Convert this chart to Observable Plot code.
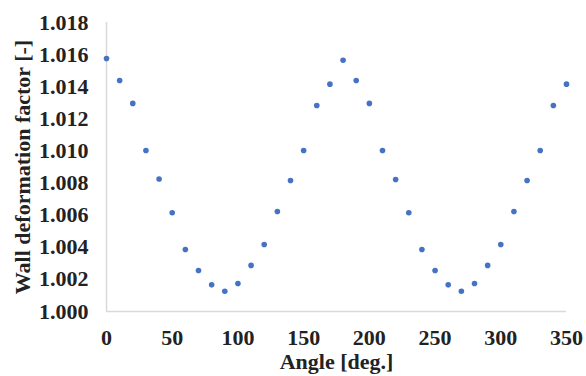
<!DOCTYPE html>
<html><head><meta charset="utf-8">
<script src="https://cdn.jsdelivr.net/npm/d3@7"></script>
<script src="https://cdn.jsdelivr.net/npm/@observablehq/plot@0.6"></script>
<style>body{margin:0;background:#fff}</style>
</head><body><div id="chart"></div>
<script>
const angles = [0,10,20,30,40,50,60,70,80,90,100,110,120,130,140,150,160,170,180,190,200,210,220,230,240,250,260,270,280,290,300,310,320,330,340,350];
const factors = [1.01576,1.01439,1.01296,1.01003,1.00825,1.00615,1.00386,1.00255,1.00166,1.00126,1.00174,1.00287,1.00417,1.00623,1.00816,1.01003,1.01283,1.01416,1.01565,1.01439,1.01296,1.01003,1.00822,1.00615,1.00386,1.00255,1.00166,1.00126,1.00174,1.00287,1.00417,1.00623,1.00816,1.01003,1.01283,1.01416];
const xTicks = [0,50,100,150,200,250,300,350];
const yTicks = [1.000,1.002,1.004,1.006,1.008,1.010,1.012,1.014,1.016,1.018];
const data = angles.map((a,i)=>({angle:a, factor:factors[i]}));
const font = "'Liberation Serif','Times New Roman',serif";
const chart = Plot.plot({
  width: 586, height: 376,
  marginLeft: 106, marginRight: 20, marginTop: 22, marginBottom: 65,
  style: {fontFamily: font, fontWeight: "bold", fontSize: "22px", color: "#222", background: "#fff"},
  x: {domain: [0,350]},
  y: {domain: [1.000,1.018]},
  marks: [
    Plot.ruleX([0], {stroke: "#d9d9d9", strokeWidth: 1.5}),
    Plot.ruleY([1.000], {stroke: "#d9d9d9", strokeWidth: 1.5}),
    Plot.axisX({ticks: xTicks, tickSize: 0, tickPadding: 18, fontSize: 22, label: "Angle [deg.]", labelAnchor: "center", labelOffset: 57, labelArrow: "none"}),
    Plot.axisY({ticks: yTicks, tickFormat: d3.format(".3f"), tickSize: 0, tickPadding: 18, fontSize: 22, label: "Wall deformation factor [-]", labelAnchor: "center", labelOffset: 92, labelArrow: "none"}),
    Plot.dot(data, {x: "angle", y: "factor", r: 2.8, fill: "#4472C4", stroke: "none"})
  ]
});
document.getElementById("chart").appendChild(chart);
</script></body></html>
